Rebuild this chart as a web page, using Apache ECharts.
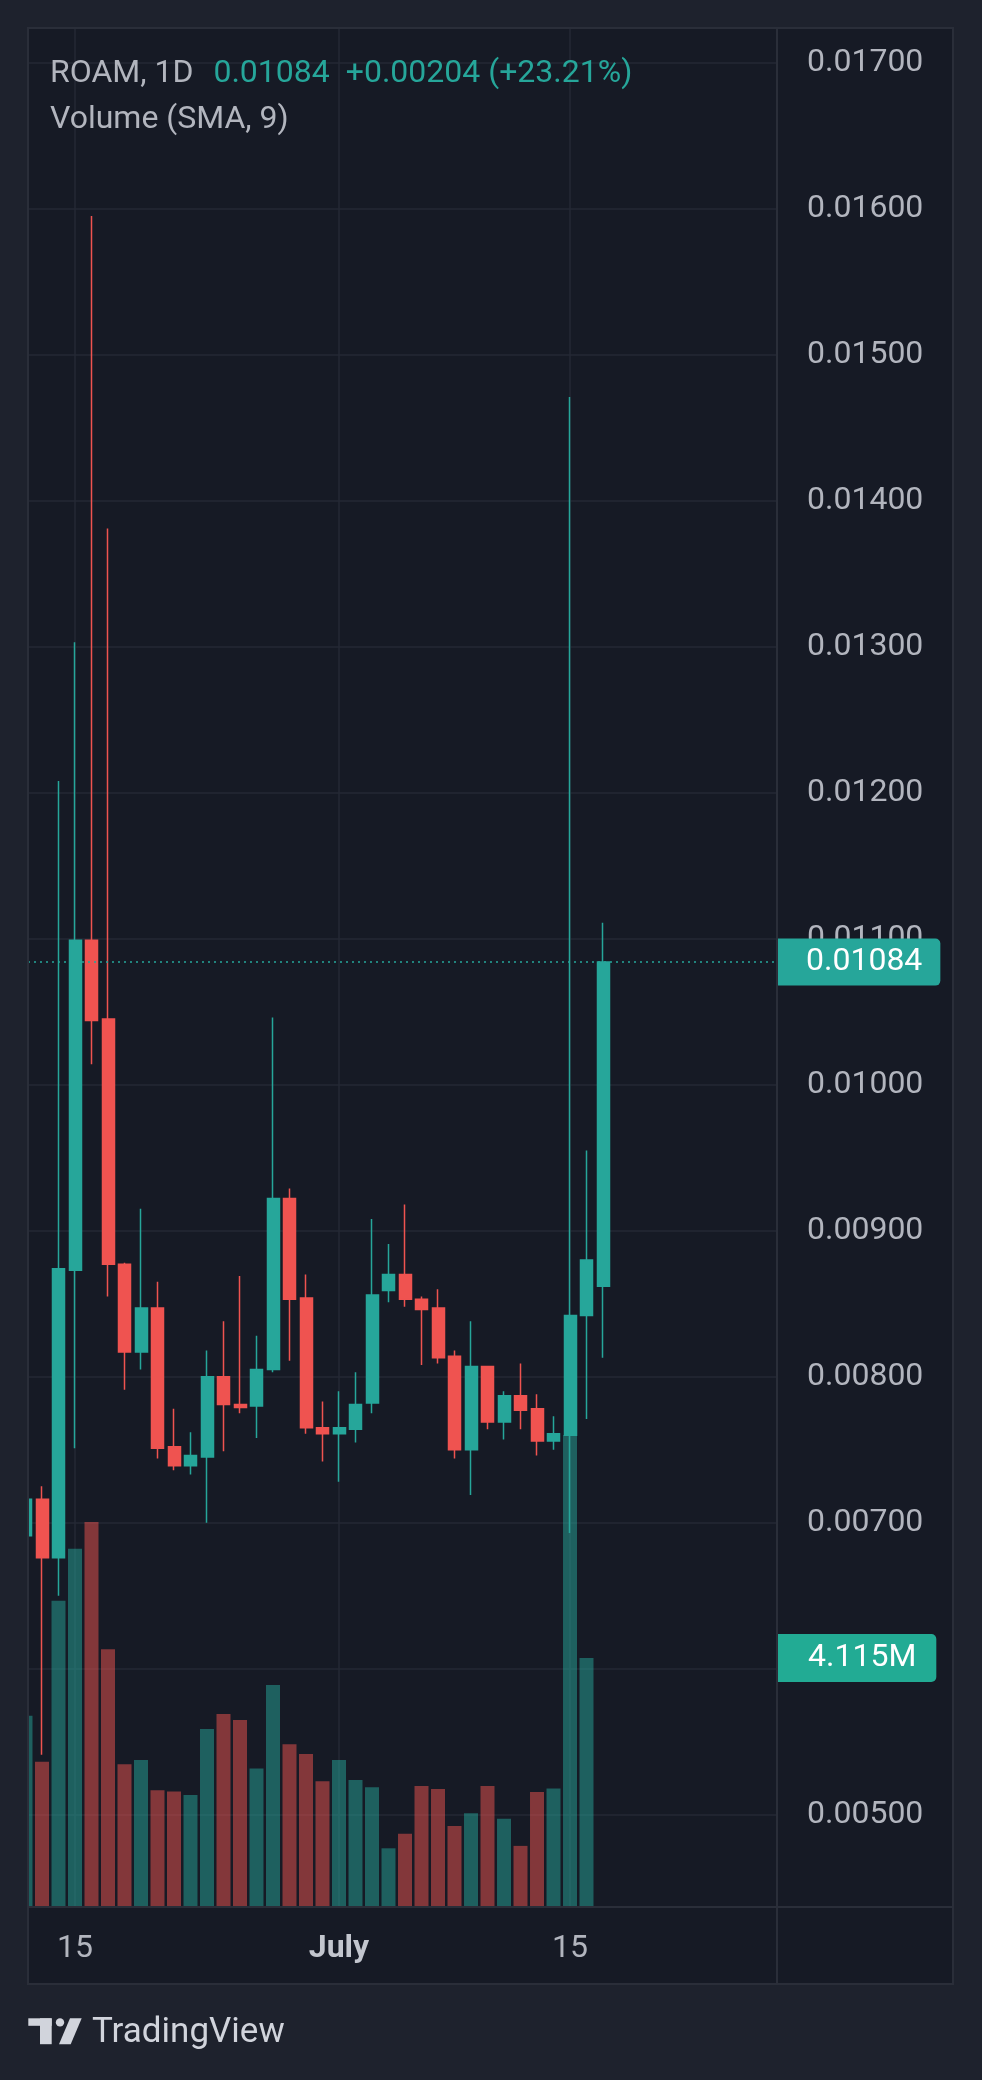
<!DOCTYPE html>
<html>
<head>
<meta charset="utf-8">
<script src="https://cdn.jsdelivr.net/npm/echarts@6/dist/echarts.min.js"></script>
<style>
html,body{margin:0;padding:0;background:#1e222d;}
#c{width:982px;height:2080px;}
</style>
</head>
<body>
<div id="c"></div>
<script>
// ---- header text ----
const symbolName = 'ROAM, 1D';
const headerPrice = '0.01084';
const headerChange = '+0.00204 (+23.21%)';
const volumeTitle = 'Volume (SMA, 9)';

// ---- daily candles (Jun 12 .. Jul 17) ----
const dates = ['06-12','06-13','06-14','06-15','06-16','06-17','06-18','06-19','06-20','06-21','06-22','06-23',
  '06-24','06-25','06-26','06-27','06-28','06-29','06-30','07-01','07-02','07-03','07-04','07-05',
  '07-06','07-07','07-08','07-09','07-10','07-11','07-12','07-13','07-14','07-15','07-16','07-17'];
const opens  = [0.00691,0.00716,0.00676,0.00873,0.01099,0.01045,0.00877,0.00817,0.00847,0.00752,0.00739,0.00745,
  0.00800,0.00781,0.00780,0.00805,0.00922,0.00854,0.00765,0.00761,0.00764,0.00782,0.00859,0.00870,
  0.00853,0.00847,0.00814,0.00750,0.00807,0.00769,0.00787,0.00778,0.00756,0.00760,0.00842,0.00862];
const closes = [0.00716,0.00676,0.00874,0.01099,0.01044,0.00877,0.00817,0.00847,0.00751,0.00739,0.00746,0.00800,
  0.00781,0.00779,0.00805,0.00922,0.00853,0.00765,0.00761,0.00765,0.00781,0.00856,0.00870,0.00853,
  0.00846,0.00813,0.00750,0.00807,0.00769,0.00787,0.00777,0.00756,0.00761,0.00842,0.00880,0.01084];
const lows   = [0.00685,0.00541,0.00650,0.00751,0.01014,0.00855,0.00791,0.00805,0.00744,0.00736,0.00733,0.00700,
  0.00749,0.00775,0.00758,0.00803,0.00811,0.00761,0.00742,0.00728,0.00755,0.00775,0.00851,0.00848,
  0.00808,0.00809,0.00744,0.00719,0.00764,0.00757,0.00764,0.00746,0.00750,0.00693,0.00771,0.00813];
const highs  = [0.00725,0.00725,0.01208,0.01303,0.01595,0.01381,0.00878,0.00915,0.00865,0.00778,0.00762,0.00818,
  0.00838,0.00869,0.00828,0.01046,0.00929,0.00870,0.00783,0.00790,0.00803,0.00908,0.00891,0.00918,
  0.00855,0.00860,0.00818,0.00838,0.00807,0.00790,0.00809,0.00788,0.00773,0.01471,0.00955,0.01111];
// volume in millions (last day has no bar)
const volumesM = [3.16,2.40,5.06,5.92,6.36,4.26,2.36,2.43,1.93,1.91,1.85,2.94,
  3.19,3.09,2.29,3.67,2.69,2.53,2.08,2.43,2.10,1.98,0.97,1.21,
  2.00,1.95,1.34,1.55,2.00,1.46,1.01,1.90,1.96,7.80,4.115,null];

// ---- axis ticks ----
const priceTicks = [0.005,0.006,0.007,0.008,0.009,0.010,0.011,0.012,0.013,0.014,0.015,0.016,0.017];
const timeTickIdx = [3, 19, 33];
const timeTickLabels = ['15', 'July', '15'];

const UP = '#26a69a', DOWN = '#ef5350';
const TXT = '#b2b5be';
const FONT = 'Roboto, "Noto Sans", sans-serif';
const GRIDC = '#242834';
const BORDER = '#2a2e39';

const candleData = opens.map((o, i) => [i, o, closes[i], lows[i], highs[i]]);
const volData = [];
volumesM.forEach((v, i) => {
  if (v == null) return;
  volData.push({ value: [i, v], itemStyle: { color: closes[i] >= opens[i] ? 'rgba(38,166,154,0.5)' : 'rgba(239,83,80,0.5)' } });
});
const lastClose = closes[closes.length - 1];
const lastVol = volumesM.filter(v => v != null).slice(-1)[0];

const chart = echarts.init(document.getElementById('c'), null, { renderer: 'canvas', width: 982, height: 2080 });

const txtRich = (color, padR) => ({ fontFamily: FONT, fontSize: 32, fontWeight: 'normal', color: color, lineHeight: 46, padding: [0, padR, 0, 0] });

const option = {
  backgroundColor: '#1e222d',
  animation: false,
  textStyle: { fontFamily: FONT },
  title: {
    left: 50, top: 51, padding: 0,
    text: '{a|' + symbolName + '}{b|' + headerPrice + '}{c|' + headerChange + '}\n{a|' + volumeTitle + '}',
    textStyle: {
      fontWeight: 'normal', fontSize: 32, fontFamily: FONT,
      rich: { a: txtRich(TXT, 20), b: txtRich(UP, 16), c: txtRich(UP, 0) }
    }
  },
  grid: { left: 28, right: 205, top: 28, bottom: 173, show: false },
  xAxis: {
    type: 'value', min: 0.1515, max: 45.545,
    axisLine: { show: false },
    axisTick: { show: false, customValues: timeTickIdx },
    splitLine: { show: true, lineStyle: { color: GRIDC, width: 1.5 } },
    axisLabel: {
      customValues: timeTickIdx,
      margin: 26, fontSize: 32, lineHeight: 32, color: TXT, fontFamily: FONT,
      formatter: function (v) {
        const k = timeTickIdx.indexOf(Math.round(v));
        const s = k >= 0 ? timeTickLabels[k] : '';
        return s === 'July' ? '{b|' + s + '}' : s;
      },
      rich: { b: { fontSize: 32, lineHeight: 32, fontWeight: 'bold', color: '#c3c6ce', fontFamily: FONT } }
    }
  },
  yAxis: [
    {
      type: 'value', position: 'right', min: 0.004368, max: 0.017238,
      axisLine: { show: false },
      axisTick: { show: false, customValues: priceTicks },
      splitLine: { show: true, lineStyle: { color: GRIDC, width: 1.5 } },
      axisLabel: {
        customValues: priceTicks, margin: 30, fontSize: 32, color: TXT, fontFamily: FONT,
        formatter: v => v.toFixed(5)
      }
    },
    { type: 'value', min: 0, max: 31.05, show: false, splitLine: { show: false } }
  ],
  series: [
    {
      name: 'Volume', type: 'bar', xAxisIndex: 0, yAxisIndex: 1,
      data: volData, barWidth: 14, silent: true,
      markLine: {
        silent: true, animation: false, symbol: ['none', 'none'], precision: 6,
        data: [{ yAxis: lastVol }],
        lineStyle: { color: 'rgba(0,0,0,0)', width: 0 },
        label: {
          show: true, position: 'end', distance: 1,
          formatter: () => lastVol.toFixed(3) + 'M',
          color: '#ffffff', fontSize: 32, lineHeight: 32, fontFamily: FONT,
          backgroundColor: '#22ab94', padding: [8, 20, 8, 30], borderRadius: [0, 5, 5, 0]
        }
      }
    },
    {
      name: 'ROAM', type: 'candlestick', xAxisIndex: 0, yAxisIndex: 0,
      data: candleData, barWidth: 12.5, silent: true,
      itemStyle: { color: UP, color0: DOWN, borderColor: UP, borderColor0: DOWN, borderWidth: 1.5 },
      markLine: {
        silent: true, animation: false, symbol: ['none', 'none'], precision: 6,
        data: [{ yAxis: lastClose }],
        lineStyle: { color: UP, type: [2, 4], width: 1.5 },
        label: {
          show: true, position: 'end', distance: 1,
          formatter: () => lastClose.toFixed(5),
          color: '#ffffff', fontSize: 32, lineHeight: 33, fontFamily: FONT,
          backgroundColor: UP, padding: [7, 18, 7, 28], borderRadius: [0, 5, 5, 0]
        }
      }
    }
  ],
  graphic: {
    elements: [
      { type: 'rect', z: -10, silent: true, shape: { x: 28, y: 28, width: 925, height: 1956 }, style: { fill: '#161a25' } },
      { type: 'rect', z: 50, silent: true, shape: { x: 0, y: 0, width: 28, height: 2080 }, style: { fill: '#1e222d' } },
      { type: 'rect', z: 51, silent: true, shape: { x: 28, y: 28, width: 925, height: 1956 }, style: { fill: 'none', stroke: BORDER, lineWidth: 2 } },
      { type: 'line', z: 51, silent: true, shape: { x1: 777, y1: 28, x2: 777, y2: 1984 }, style: { stroke: BORDER, lineWidth: 2 } },
      { type: 'line', z: 51, silent: true, shape: { x1: 28, y1: 1907, x2: 953, y2: 1907 }, style: { stroke: BORDER, lineWidth: 2 } },
      // TradingView logo
      { type: 'rect', z: 51, silent: true, shape: { x: 28.3, y: 2018.3, width: 23.4, height: 7.5 }, style: { fill: '#d1d4dc' } },
      { type: 'rect', z: 51, silent: true, shape: { x: 40, y: 2018.3, width: 11.7, height: 25.9 }, style: { fill: '#d1d4dc' } },
      { type: 'circle', z: 51, silent: true, shape: { cx: 60, cy: 2022.4, r: 4.2 }, style: { fill: '#d1d4dc' } },
      { type: 'polygon', z: 51, silent: true, shape: { points: [[70, 2018.3], [81.7, 2018.3], [70.7, 2044.2], [59, 2044.2]] }, style: { fill: '#d1d4dc' } },
      { type: 'text', z: 51, silent: true, x: 92, y: 2033, style: { text: 'TradingView', fill: '#d1d4dc', font: '35px Roboto, "Noto Sans", sans-serif', verticalAlign: 'middle', align: 'left' } }
    ]
  }
};
chart.setOption(option);
</script>
</body>
</html>
